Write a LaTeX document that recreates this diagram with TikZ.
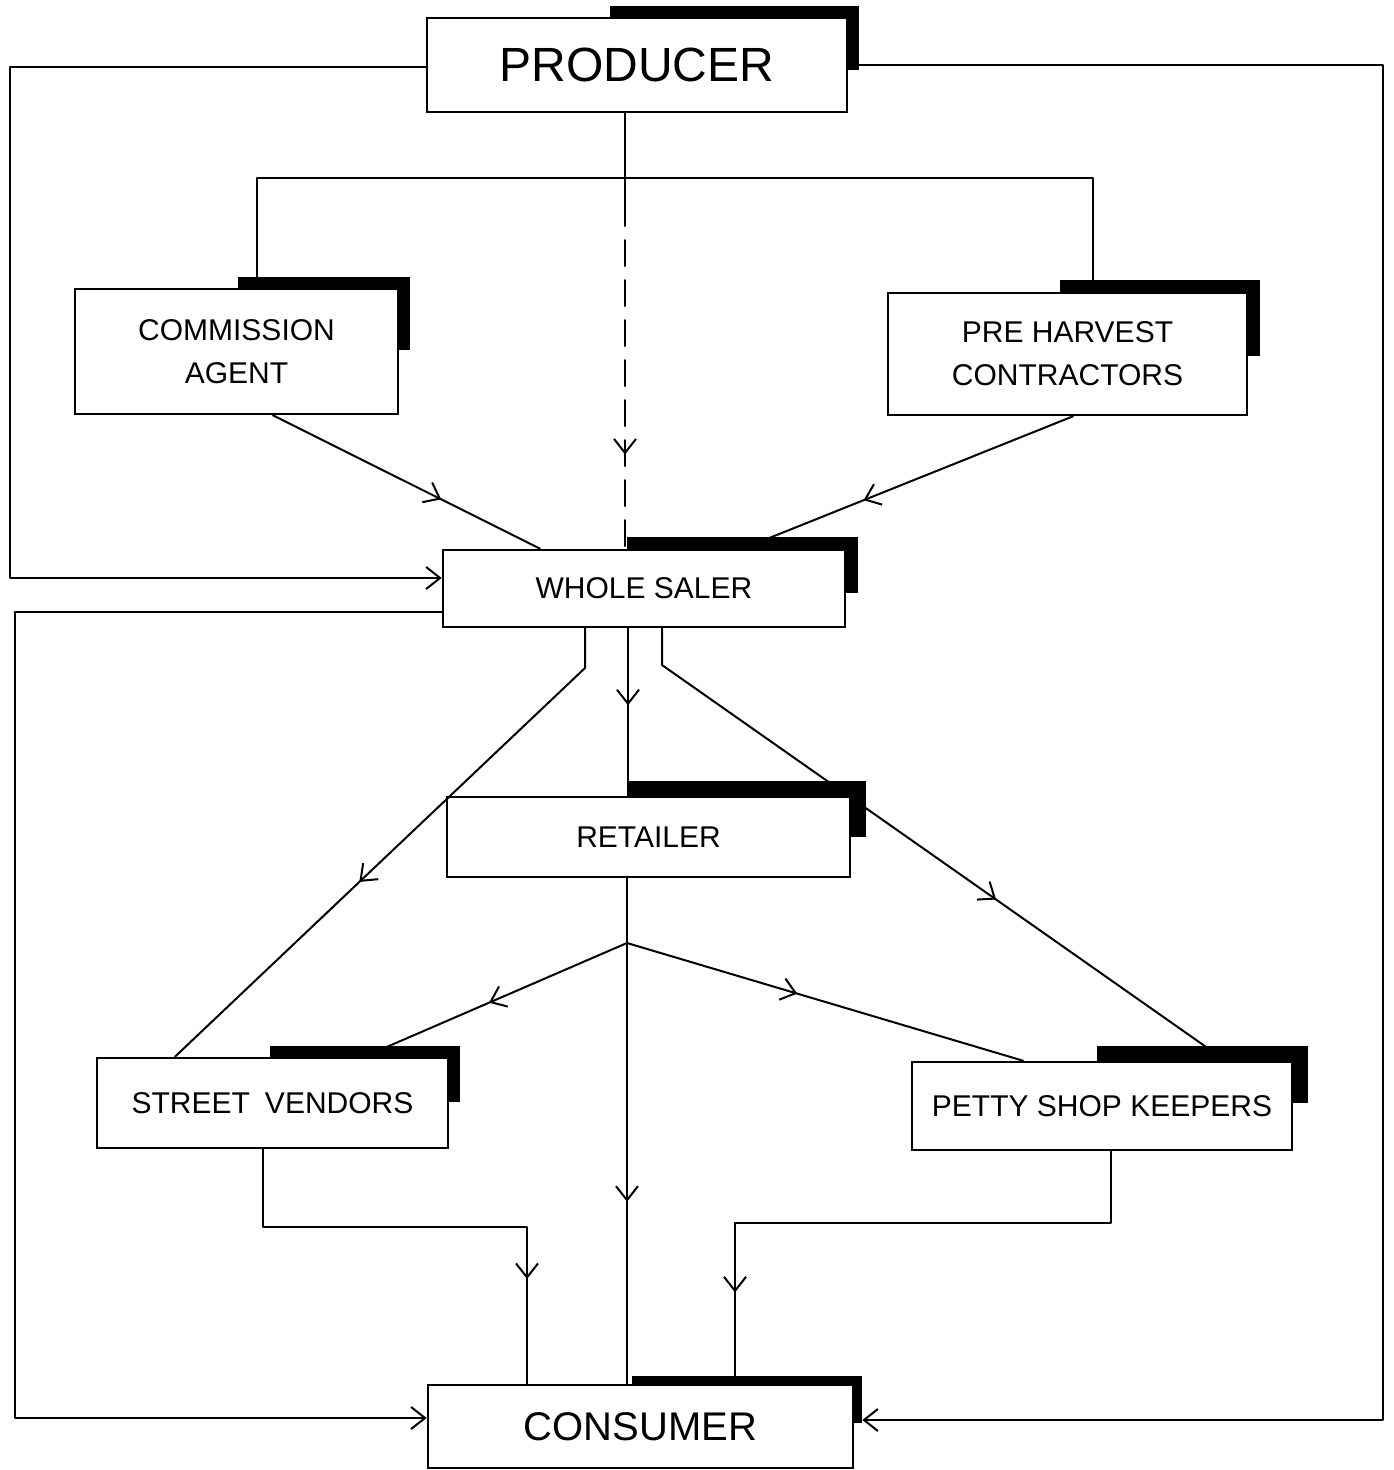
\documentclass[tikz,border=0pt]{standalone}
\usepackage{fontspec}
\setmainfont{Liberation Sans}
\usetikzlibrary{arrows.meta,decorations.markings,backgrounds,calc}
\newcommand\boxshadow[4]{\fill ($(#1.north -| #2,0)+(0,-#4)$) rectangle ($(#1.east |- 0,#3)+(#4,0)$);}
\begin{document}
\begin{tikzpicture}[x=1pt,y=-1pt,
  box/.style={draw, line width=2.6pt, fill=white, inner sep=0pt, align=center, font=\fontsize{30}{43}\selectfont},
  line/.style={line width=2pt, line cap=round, line join=round},
  barb/.style={-{Straight Barb[length=14pt,width=22pt,line width=2pt]}},
  midarrow/.style={postaction={decorate}, decoration={markings, mark=at position #1 with {\arrow{Straight Barb[length=14pt,width=22pt,line width=2pt]}}}}
]
\useasboundingbox (0,0) rectangle (1394,1470);

% boxes
\node[box, minimum width=420pt, minimum height=94pt, font=\fontsize{48}{58}\selectfont] (P) at (637,65) {PRODUCER};
\node[box, minimum width=323pt, minimum height=125pt] (CA) at (236.5,351.5) {COMMISSION\\AGENT};
\node[box, minimum width=359pt, minimum height=122pt] (PH) at (1067.5,354) {PRE HARVEST\\CONTRACTORS};
\node[box, minimum width=402pt, minimum height=77pt] (W) at (644,588.5) {WHOLE SALER};
\node[box, minimum width=403pt, minimum height=80pt] (R) at (648.5,837) {RETAILER};
\node[box, minimum width=351pt, minimum height=90pt] (S) at (272.5,1103) {STREET\enspace VENDORS};
\node[box, minimum width=380pt, minimum height=88pt] (PS) at (1102,1106) {PETTY SHOP KEEPERS};
\node[box, minimum width=425pt, minimum height=83pt, font=\fontsize{40}{48}\selectfont] (C) at (640.5,1426.5) {CONSUMER};

% shadows
\begin{scope}[on background layer]
\fill[white] (0,0) rectangle (1394,1470);
\boxshadow{P}{610}{70}{11}
\boxshadow{CA}{238}{350}{11}
\boxshadow{PH}{1060}{356}{12}
\boxshadow{W}{627}{593}{12}
\boxshadow{R}{628}{837}{15}
\boxshadow{S}{270}{1102}{11}
\boxshadow{PS}{1097}{1103}{15}
\boxshadow{C}{632}{1423}{8}
\end{scope}

% connectors
\draw[line,barb] ([yshift=-2pt]P.west) -- (10,67) |- ([yshift=10.5pt]W.west);
\draw[line,barb] ([xshift=10pt]P.east) -- (1383,65) |- ([xshift=8pt,yshift=6.5pt]C.east);

\coordinate (d1) at (625,200);
\draw[line] (P.south -| d1) -- (d1);
\draw[line, dash pattern=on 26pt off 14pt, midarrow=0.73] (d1) -- (W.north -| d1);

\draw[line] (CA.north -| 257,0) -- (257,178) -| (PH.north -| 1093,0);

\draw[line, midarrow=0.63] (CA.south -| 273,0) -- (W.north -| 540,0);
\draw[line, midarrow=0.68] (PH.south -| 1073,0) -- ($(W.north -| 765,0)+(0,-9)$);

\draw[line,barb] ([yshift=-23.5pt]W.west) -- (15,612) |- ([yshift=8.5pt]C.west);

\draw[line, midarrow=0.58] (W.south -| 585,0) -- (585,668) -- (S.north -| 175,0);
\draw[line, midarrow=0.46] (W.south -| 628,0) -- (R.north -| 628,0);
\draw[line, midarrow=0.63] (W.south -| 662,0) -- (662,665) -- ($(PS.north -| 1210,0)+(0,-11)$);

\coordinate (j) at (627,943);
\draw[line, midarrow=0.64] (R.south -| j) -- (C.north -| j);
\draw[line, midarrow=0.57] (j) -- ($(S.north -| 385,0)+(0,-9)$);
\draw[line, midarrow=0.43] (j) -- (PS.north -| 1023,0);

\draw[line, midarrow=0.79] (S.south -| 263,0) -- (263,1227) -| (C.north -| 527,0);
\draw[line, midarrow=0.85] (PS.south -| 1111,0) -- (1111,1223) -| (C.north -| 735,0);
\end{tikzpicture}
\end{document}
